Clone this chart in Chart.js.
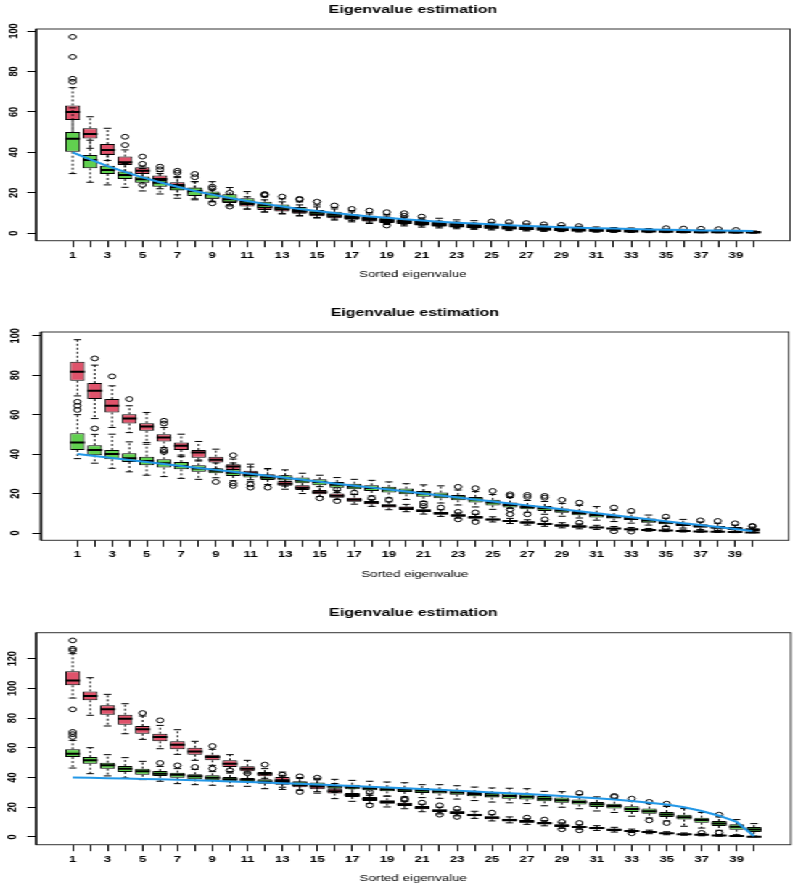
<!DOCTYPE html>
<html>
<head>
<meta charset="utf-8">
<script src="https://cdn.jsdelivr.net/npm/chart.js@4"></script>
<style>
  html, body { margin: 0; padding: 0; background: #fff; overflow: hidden; }
  /* the reference is stretched sideways, so draw narrow and stretch */
  #stage { position: absolute; left: 0; top: 0; width: 550px; height: 889px;
           transform: scaleX(1.4509); transform-origin: 0 0; }
  canvas { position: absolute; left: 0; }
</style>
</head>
<body>
<div id="stage">
  <canvas id="c1" width="550" height="296" style="top:0px"></canvas>
  <canvas id="c2" width="550" height="296" style="top:296px"></canvas>
  <canvas id="c3" width="550" height="297" style="top:592px"></canvas>
</div>
<script>
const categories = [1,2,3,4,5,6,7,8,9,10,11,12,13,14,15,16,17,18,19,20,
                    21,22,23,24,25,26,27,28,29,30,31,32,33,34,35,36,37,38,39,40];
const xTickLabels = [1,3,5,7,9,11,13,15,17,19,21,23,25,27,29,31,33,35,37,39];
const yTicksA = [0,20,40,60,80,100];
const yTicksB = [0,20,40,60,80,100,120];
const titleText = 'Eigenvalue estimation';
const xTitleText = 'Sorted eigenvalue';

// each row: [lower whisker, Q1, median, Q3, upper whisker]
const p1Red = [
  [48,56.0,59.9,63.2,72],[42,46.9,49.1,51.9,57.6],[36,38.7,41.2,44.1,51.9],[30,33.7,35.1,37.9,41.2],
  [26,29.3,30.9,32.6,33.2],[22,25.5,26.8,28.5,30.5],[19,21.4,23.9,25.2,28],[17,19.5,21.0,22.5,25.5],
  [15.5,17.0,18.5,19.8,21.5],[13.5,15.0,16.2,17.5,19],[12,13.2,14.5,16.0,18],[10.5,11.5,12.8,14.0,16.5],
  [9.5,10.8,11.8,13.0,15.5],[8.5,9.6,10.6,11.8,14],[7.5,8.4,9.4,10.5,13],[6.5,7.4,8.4,9.5,12],
  [5.6,6.6,7.5,8.5,10.5],[4.8,5.8,6.6,7.6,9.5],[4.3,5.0,5.8,6.8,8.5],[3.6,4.5,5.2,6.0,7.6],
  [3.0,3.8,4.6,5.4,6.8],[2.6,3.3,4.0,4.8,6.0],[2.2,2.9,3.5,4.3,5.5],[1.9,2.5,3.1,3.8,5.0],
  [1.6,2.2,2.8,3.4,4.4],[1.3,1.9,2.4,3.0,4.0],[1.1,1.6,2.1,2.7,3.6],[0.9,1.4,1.8,2.4,3.2],
  [0.8,1.2,1.6,2.1,2.9],[0.6,1.0,1.4,1.8,2.6],[0.5,0.9,1.2,1.6,2.3],[0.4,0.8,1.1,1.4,2.0],
  [0.4,0.7,0.9,1.2,1.8],[0.3,0.6,0.8,1.1,1.6],[0.3,0.5,0.7,1.0,1.4],[0.2,0.4,0.6,0.8,1.2],
  [0.2,0.35,0.5,0.7,1.1],[0.2,0.3,0.45,0.6,1.0],[0.1,0.25,0.35,0.5,0.8],[0.1,0.2,0.3,0.4,0.6]
];
const p1RedOut = [[1,97.1],[1,87.2],[1,76.4],[1,74.9],[4,47.7],[4,43.6],[5,37.9],[5,34.3],[5,23.9],
  [6,32.9],[6,31.6],[7,30.9],[7,29.9],[8,29.3],[8,27.7],[9,23.0],[9,22.2],[10,20.0],[12,19.4],[12,19.1],
  [12,18.8],[13,18.1],[14,17.0],[14,16.6],[15,15.6],[16,13.7],[17,12.0],[18,11.2],[19,10.4],[19,3.8],
  [20,9.9],[20,8.6],[21,8.2],[25,5.8],[26,5.5],[27,5.0],[28,4.4],[29,4.1],[30,3.5],[35,2.5],[36,2.3],
  [37,2.2],[38,2.0],[39,1.6]];
const p1Green = [
  [29.5,40.3,46.7,50.0,62],[25.2,32.1,36.2,38.7,46],[23.9,29.3,31.3,33.4,39],[22.7,26.8,28.8,30.5,34.5],
  [20.9,25.0,26.7,28.0,32],[19.4,23.0,25.0,26.3,29.5],[17.3,21.1,22.7,23.9,27.5],[16.5,18.4,20.9,22.6,25.5],
  [15.8,17.0,19.3,20.6,25.5],[14.0,15.3,16.8,19.3,22.6],[11.9,14.5,15.6,17.3,20.6],[10.5,12.5,13.8,15.6,18.0],
  [9.8,11.6,12.6,14.2,17.0],[8.8,10.5,11.5,13.0,15.5],[7.8,9.3,10.3,11.5,14.0],[7.0,8.4,9.4,10.6,12.8],
  [6.2,7.5,8.4,9.4,11.2],[5.5,6.6,7.5,8.6,10.2],[4.8,6.0,6.8,7.8,9.2],[4.2,5.3,6.1,7.0,8.4],
  [3.7,4.7,5.5,6.3,7.6],[3.2,4.1,4.9,5.7,7.4],[2.8,3.7,4.4,5.2,6.6],[2.4,3.3,4.0,4.6,6.2],
  [2.1,2.9,3.6,4.2,5.4],[1.8,2.6,3.2,3.8,5.0],[1.5,2.3,2.9,3.5,4.6],[1.3,2.0,2.6,3.1,4.2],
  [1.1,1.8,2.3,2.8,3.8],[1.0,1.6,2.1,2.5,3.4],[0.9,1.4,1.9,2.3,3.1],[0.8,1.3,1.7,2.1,2.8],
  [0.7,1.2,1.5,1.9,2.6],[0.6,1.0,1.4,1.7,2.3],[0.5,0.9,1.2,1.5,2.1],[0.5,0.8,1.1,1.4,1.9],
  [0.4,0.7,1.0,1.3,1.8],[0.4,0.7,0.9,1.2,1.6],[0.3,0.6,0.8,1.0,1.4],[0.2,0.4,0.6,0.8,1.1]
];
const p1GreenOut = [[9,14.8],[10,13.2]];
const p1True = [40,36.5,33.2,30.3,27.6,25.2,23.0,20.9,19.1,17.4,15.9,14.5,13.2,12.0,11.0,10.0,9.1,8.3,7.6,6.9,
  6.3,5.7,5.2,4.8,4.4,4.0,3.6,3.3,3.0,2.7,2.5,2.3,2.1,1.9,1.7,1.6,1.4,1.3,1.2,1.1];

const p2Red = [
  [69.5,77.2,81.7,86.8,98.0],[58.0,67.9,72.1,76.0,85.1],[53.5,61.1,64.5,67.9,74.6],[50.9,55.5,58.0,60.2,64.5],
  [45.9,51.8,54.0,55.7,61.1],[43.3,46.4,48.4,50.1,53.5],[38.7,42.1,44.2,45.9,50.1],[36.5,38.2,40.8,42.1,46.4],
  [32.5,35.7,37.1,38.7,42.5],[29.5,32.0,33.7,34.9,37.5],[27.0,28.9,30.3,31.5,34.9],[24.5,27.2,28.3,29.8,32.5],
  [22.2,23.9,25.0,26.4,29.0],[20.0,21.8,23.0,24.2,26.5],[18.5,19.6,20.6,21.8,23.5],[17.0,17.9,18.9,20.0,21.5],
  [14.6,15.9,16.9,17.9,19.5],[13.5,14.6,15.4,16.2,17.0],[11.8,12.9,13.8,14.6,15.8],[10.8,11.7,12.5,13.4,14.5],
  [9.6,10.7,11.3,12.0,13.0],[8.4,9.3,10.0,10.7,11.8],[7.5,8.3,8.9,9.5,10.2],[6.5,7.3,7.9,8.6,9.5],
  [5.6,6.4,6.9,7.4,8.2],[4.8,5.6,6.1,6.6,7.4],[4.0,4.7,5.3,5.9,6.7],[3.4,4.1,4.6,5.2,6.0],
  [2.6,3.2,3.8,4.4,5.2],[2.1,2.7,3.3,3.9,4.6],[1.8,2.4,2.8,3.2,3.9],[1.4,1.9,2.3,2.7,3.3],
  [1.1,1.5,1.9,2.2,2.8],[0.9,1.2,1.5,1.8,2.3],[0.7,1.0,1.3,1.5,2.0],[0.5,0.8,1.0,1.2,1.6],
  [0.4,0.6,0.8,1.0,1.4],[0.3,0.5,0.6,0.8,1.1],[0.2,0.35,0.5,0.6,0.9],[0.1,0.2,0.3,0.4,0.6]
];
const p2RedOut = [[1,66.5],[1,64.5],[1,62.4],[2,88.5],[3,79.4],[4,67.9],[6,56.9],[6,55.5],[6,42.1],[6,41.1],
  [10,39.4],[15,17.6],[16,22.2],[16,16.2],[17,20.5],[18,17.6],[19,16.8],[21,15.1],[21,13.7],[22,12.9],
  [23,10.7],[23,6.9],[24,10.4],[24,5.6],[26,9.5],[27,9.5],[28,6.9],[30,5.2],[32,0.9],[33,0.7],[35,2.6],[38,1.6]];
const p2Green = [
  [37.7,42.1,45.9,50.6,60],[35.4,39.4,42.1,44.5,50.0],[32.8,37.4,40.1,42.1,50.1],[31.0,36.0,37.9,40.4,46.2],
  [29.3,34.3,36.5,38.7,45.0],[28.6,33.2,35.4,37.4,41.0],[27.7,32.3,34.0,36.0,39.5],[27.2,31.0,32.7,34.3,37.0],
  [28.0,30.3,31.5,32.8,35.5],[26.5,28.9,30.6,32.3,35.5],[26.0,28.1,29.4,30.6,33.5],[24.5,26.9,28.1,29.3,32.7],
  [23.8,26.6,27.8,29.3,32.0],[22.5,25.2,26.6,28.1,30.3],[21.5,24.2,25.8,27.2,29.3],[20.5,23.0,24.5,25.9,28.1],
  [19.5,22.2,23.6,25.0,27.2],[18.8,21.3,22.8,24.2,26.7],[17.8,20.5,22.0,23.4,25.9],[17.0,19.6,21.0,22.5,25.0],
  [16.0,18.4,20.0,21.3,24.4],[15.2,17.6,19.0,20.5,23.9],[14.2,16.6,18.0,19.3,21.8],[13.2,15.4,17.0,18.3,21.0],
  [12.0,14.0,15.5,16.8,19.5],[12.5,12.9,14.2,15.4,18.0],[10.5,12.0,13.2,14.2,16.5],[9.5,11.2,12.5,13.7,16.0],
  [8.5,10.3,11.4,12.4,15.0],[7.6,9.0,10.2,11.2,14.0],[6.5,7.8,9.1,10.3,13.4],[5.8,7.3,8.2,9.1,11.5],
  [5.0,6.6,7.4,8.3,10.2],[4.0,5.2,6.3,7.3,9.1],[3.3,4.4,5.3,6.1,7.5],[2.5,3.6,4.4,5.2,6.9],
  [1.8,2.7,3.5,4.4,5.6],[1.2,2.2,2.9,3.6,4.9],[0.8,1.5,2.2,3.0,4.0],[0.4,1.0,1.6,2.4,3.0]
];
const p2GreenOut = [[2,53.0],[9,25.9],[10,25.2],[10,23.9],[11,24.7],[11,23.0],[12,23.0],[23,23.4],[24,22.7],
  [25,21.3],[26,19.6],[26,18.8],[26,11.9],[27,19.3],[27,18.3],[28,18.8],[28,17.9],[29,16.8],[30,15.4],
  [32,12.9],[33,11.2],[35,8.3],[37,6.4],[38,6.1],[39,4.9],[40,3.6],[40,3.3]];
const p2True = [40,39,38,37,36,35,34,33,32,31,30,29,28,27,26,25,24,23,22,21,
  20,19,18,17,16,15,14,13,12,11,10,9,8,7,6,5,4,3,2,1];

const p3Red = [
  [93.5,102.1,105.4,111.5,123.4],[81.9,92.0,94.9,98.0,107.2],[74.7,82.3,85.9,88.6,96.0],[69.5,75.6,79.6,82.3,89.7],
  [65.7,69.5,72.5,74.7,81.4],[59.4,64.4,67.3,69.5,75.1],[55.6,59.0,62.1,64.4,72.2],[51.6,55.4,57.6,60.1,64.4],
  [48.2,51.6,53.8,55.4,59.0],[44.0,47.1,49.3,51.6,55.4],[43.6,44.2,46.0,47.6,51.6],[39.5,40.8,42.6,43.7,46.0],
  [33.5,35.2,38.1,40.4,43.7],[31.5,33.5,35.0,36.5,39.5],[29.5,32.1,34.0,35.9,38.5],[25.8,29.2,30.8,32.5,36.0],
  [24.0,26.9,28.3,29.6,32.5],[22.5,24.2,25.5,26.9,29.0],[20.2,22.4,23.5,24.7,27.5],[19.0,20.9,22.0,23.1,24.0],
  [17.0,18.6,19.7,20.9,22.0],[15.5,16.8,17.7,18.6,20.0],[14.2,15.5,16.4,17.3,18.2],[12.5,13.9,14.8,15.7,17.3],
  [10.8,11.9,12.9,13.9,15.0],[9.5,10.5,11.4,12.3,13.5],[8.5,9.6,10.5,11.4,12.3],[7.5,8.5,9.3,10.1,11.0],
  [5.8,6.7,7.6,8.5,9.5],[5.2,6.1,6.7,7.2,8.2],[4.4,5.2,6.0,6.7,7.6],[3.3,4.0,4.8,5.6,6.5],
  [3.0,3.4,4.0,4.5,5.3],[2.2,2.9,3.3,3.8,4.6],[1.5,2.0,2.5,2.9,3.5],[1.2,1.5,1.8,2.2,2.7],
  [0.8,1.2,1.5,1.8,2.3],[0.5,0.8,1.0,1.3,1.7],[0.3,0.5,0.6,0.8,1.1],[0.1,0.15,0.2,0.3,0.5]
];
const p3RedOut = [[1,132.3],[1,126.7],[1,125.6],[1,85.9],[5,83.4],[6,78.5],[9,61.2],[11,42.9],[12,48.7],
  [13,41.9],[14,40.8],[14,30.3],[15,39.9],[18,30.3],[18,21.3],[20,25.8],[20,25.0],[21,23.1],[22,21.3],
  [22,15.0],[23,19.1],[23,13.5],[25,16.4],[27,13.0],[28,11.7],[29,10.1],[29,5.2],[30,9.4],[30,4.5],
  [33,2.5],[37,2.7],[38,2.9]];
const p3Green = [
  [46.4,53.8,56.1,59.0,65.0],[42.6,49.3,51.6,53.8,60.1],[41.1,46.0,48.2,50.0,55.4],[39.7,43.7,46.0,47.8,53.4],
  [38.6,41.9,44.2,46.0,50.9],[37.5,41.1,42.6,44.4,47.5],[35.9,39.9,41.9,43.3,46.0],[35.2,38.8,40.8,42.2,45.5],
  [34.8,38.1,39.9,41.5,44.0],[34.3,37.5,38.8,40.4,43.0],[34.1,37.0,38.6,39.7,42.5],[32.5,35.9,37.3,38.8,42.0],
  [32.0,35.8,37.0,38.3,41.5],[31.5,34.3,36.0,37.5,40.0],[30.5,33.6,35.0,36.6,39.5],[30.0,32.5,34.0,35.2,38.8],
  [29.0,32.1,33.6,35.2,38.1],[28.0,31.4,32.8,34.3,37.5],[27.5,30.7,32.2,33.6,37.0],[27.0,30.3,31.8,33.2,36.5],
  [26.5,29.6,31.2,33.0,35.2],[26.0,29.2,30.6,32.1,35.2],[25.5,28.5,30.0,31.4,34.5],[24.5,27.4,29.0,30.3,33.6],
  [23.5,26.5,28.0,29.6,33.0],[23.0,25.8,27.5,29.2,32.8],[22.5,25.3,27.0,28.7,32.5],[21.0,24.0,25.8,27.6,30.7],
  [20.0,23.1,24.8,26.5,30.5],[19.0,21.8,23.5,25.3,28.5],[17.5,20.2,22.0,23.6,27.0],[16.5,19.1,20.8,22.4,26.0],
  [14.0,16.8,18.8,20.6,24.0],[12.8,15.7,17.3,19.1,22.5],[10.8,13.5,15.2,16.8,20.5],[7.2,11.7,13.3,15.0,19.1],
  [6.0,9.6,11.4,13.0,16.5],[4.5,7.4,9.0,10.8,13.5],[1.5,4.9,6.8,8.5,11.7],[0.5,3.4,5.0,6.7,9.0]
];
const p3GreenOut = [[1,70.7],[1,69.2],[1,67.3],[6,49.8],[7,48.2],[8,47.1],[9,46.0],[10,44.9],[30,29.6],
  [32,27.6],[32,27.0],[33,25.8],[34,23.6],[34,11.2],[35,22.4],[35,9.4],[38,15.0]];
const p3True = [40,39.8,39.6,39.4,39.1,38.8,38.5,38.2,37.8,37.4,37.0,36.6,36.2,35.8,35.3,34.8,34.3,33.8,33.3,32.8,
  32.3,31.8,31.2,30.6,30.0,29.5,28.9,28.2,27.5,26.8,26.0,25.2,24.2,23.1,21.8,20.0,17.5,14.3,10.2,0.5];

const RED = '#DF536B', GREEN = '#61D04F', BLUE = '#2297E6';
const FONT = '"Liberation Sans", Arial, Helvetica, sans-serif';

// whiskers + staples before each box set, medians after, frame and texts at the end
const rFrame = {
  id: 'rFrame',
  beforeDatasetDraw(chart, args) {
    const ds = chart.data.datasets[args.index];
    if (!ds.stats) return;
    const ctx = chart.ctx, xs = chart.scales.x, ys = chart.scales.y;
    ctx.save();
    ctx.strokeStyle = '#000';
    ctx.lineWidth = 1;
    args.meta.data.forEach((bar, i) => {
      const s = ds.stats[i];
      const cx = xs.getPixelForValue(categories[i]);
      const hw = bar.width / 2;
      ctx.setLineDash([2, 2]);
      ctx.beginPath();
      ctx.moveTo(cx, ys.getPixelForValue(s[3]));
      ctx.lineTo(cx, ys.getPixelForValue(s[4]));
      ctx.moveTo(cx, ys.getPixelForValue(s[1]));
      ctx.lineTo(cx, ys.getPixelForValue(s[0]));
      ctx.stroke();
      ctx.setLineDash([]);
      ctx.beginPath();
      [s[0], s[4]].forEach(v => {
        const py = ys.getPixelForValue(v);
        ctx.moveTo(cx - hw / 2, py);
        ctx.lineTo(cx + hw / 2, py);
      });
      ctx.stroke();
    });
    ctx.restore();
  },
  afterDatasetDraw(chart, args) {
    const ds = chart.data.datasets[args.index];
    if (!ds.stats) return;
    const ctx = chart.ctx, xs = chart.scales.x, ys = chart.scales.y;
    ctx.save();
    ctx.strokeStyle = '#000';
    ctx.lineWidth = 2;
    ctx.beginPath();
    args.meta.data.forEach((bar, i) => {
      const cx = xs.getPixelForValue(categories[i]);
      const hw = bar.width / 2;
      const py = ys.getPixelForValue(ds.stats[i][2]);
      ctx.moveTo(cx - hw, py);
      ctx.lineTo(cx + hw, py);
    });
    ctx.stroke();
    ctx.restore();
  },
  afterDraw(chart, args, opts) {
    const ctx = chart.ctx, ca = chart.chartArea, xs = chart.scales.x, ys = chart.scales.y;
    ctx.save();
    ctx.strokeStyle = '#333';
    ctx.lineWidth = 1;
    ctx.strokeRect(ca.left, ca.top, ca.right - ca.left, ca.bottom - ca.top);
    // heavier y axis line, as in the original
    ctx.strokeStyle = '#000';
    ctx.lineWidth = 1.6;
    ctx.beginPath();
    ctx.moveTo(ca.left, ca.top);
    ctx.lineTo(ca.left, ca.bottom);
    ctx.stroke();
    ctx.fillStyle = '#000';
    ctx.textAlign = 'center';
    ctx.textBaseline = 'middle';
    const mid = (ca.left + ca.right) / 2;
    ctx.font = 'bold 11px ' + FONT;
    ctx.fillText(titleText, mid, ca.top - 19.5);
    ctx.font = 'bold 9.2px ' + FONT;
    xTickLabels.forEach(v => ctx.fillText(String(v), xs.getPixelForValue(v), ca.bottom + 14.5));
    ys.ticks.forEach(t => {
      ctx.save();
      ctx.translate(ca.left - opts.yLabelGap, ys.getPixelForValue(t.value));
      ctx.rotate(-Math.PI / 2);
      ctx.fillText(String(t.value), 0, 0);
      ctx.restore();
    });
    ctx.font = '9.2px ' + FONT;
    ctx.fillText(xTitleText, mid, ca.bottom + 34);
    ctx.restore();
  }
};

function boxData(stats) {
  return stats.map((s, i) => ({ x: categories[i], y: [s[1], s[3]] }));
}
function pts(list) {
  return list.map(p => ({ x: p[0], y: p[1] }));
}

function makePanel(id, p) {
  const canvas = document.getElementById(id);
  const H = canvas.height;
  new Chart(canvas, {
    type: 'bar',
    data: {
      datasets: [
        { type: 'bar', data: boxData(p.red), stats: p.red, backgroundColor: RED, borderColor: '#000',
          borderWidth: 1, borderSkipped: false, grouped: false, barPercentage: 0.85, categoryPercentage: 1, order: 5 },
        { type: 'scatter', data: pts(p.redOut), pointRadius: 2.4, pointBorderWidth: 1,
          pointBackgroundColor: 'rgba(0,0,0,0)', pointBorderColor: '#000', order: 4 },
        { type: 'bar', data: boxData(p.green), stats: p.green, backgroundColor: GREEN, borderColor: '#000',
          borderWidth: 1, borderSkipped: false, grouped: false, barPercentage: 0.85, categoryPercentage: 1, order: 3 },
        { type: 'scatter', data: pts(p.greenOut), pointRadius: 2.4, pointBorderWidth: 1,
          pointBackgroundColor: 'rgba(0,0,0,0)', pointBorderColor: '#000', order: 2 },
        { type: 'line', data: p.truth.map((v, i) => ({ x: categories[i], y: v })), borderColor: BLUE,
          borderWidth: 2, pointRadius: 0, tension: 0, fill: false, order: 1 }
      ]
    },
    options: {
      responsive: false,
      animation: false,
      events: [],
      layout: { padding: { left: p.left, right: 550 - p.right, top: p.top, bottom: H - p.bottom } },
      plugins: {
        legend: { display: false },
        tooltip: { enabled: false },
        rFrame: { yLabelGap: p.gap }
      },
      scales: {
        x: {
          type: 'linear', min: -1.1, max: 42.1, offset: false,
          afterFit: s => { s.height = 0; },
          afterBuildTicks: s => { s.ticks = categories.map(v => ({ value: v })); },
          ticks: { display: false },
          grid: { offset: false, drawOnChartArea: false, drawTicks: true, tickLength: 6.5, tickColor: '#000', tickWidth: 1 },
          border: { display: false }
        },
        y: {
          type: 'linear', min: p.ymin, max: p.ymax,
          afterFit: s => { s.width = 0; },
          afterBuildTicks: s => { s.ticks = p.yTicks.map(v => ({ value: v })); },
          ticks: { display: false },
          grid: { drawOnChartArea: false, drawTicks: true, tickLength: 6, tickColor: '#000', tickWidth: 1 },
          border: { display: false }
        }
      }
    },
    plugins: [rFrame]
  });
}

makePanel('c1', { red: p1Red, redOut: p1RedOut, green: p1Green, greenOut: p1GreenOut, truth: p1True,
  left: 24.8, right: 544.5, top: 29, bottom: 240.7, ymin: -3.7, ymax: 101, yTicks: yTicksA, gap: 15.6 });
makePanel('c2', { red: p2Red, redOut: p2RedOut, green: p2Green, greenOut: p2GreenOut, truth: p2True,
  left: 28.3, right: 543.6, top: 36, bottom: 244.3, ymin: -3.7, ymax: 101.9, yTicks: yTicksA, gap: 17.5 });
makePanel('c3', { red: p3Red, redOut: p3RedOut, green: p3Green, greenOut: p3GreenOut, truth: p3True,
  left: 24.8, right: 545, top: 40.7, bottom: 252.7, ymin: -5.2, ymax: 137.5, yTicks: yTicksB, gap: 16.8 });
</script>
</body>
</html>
